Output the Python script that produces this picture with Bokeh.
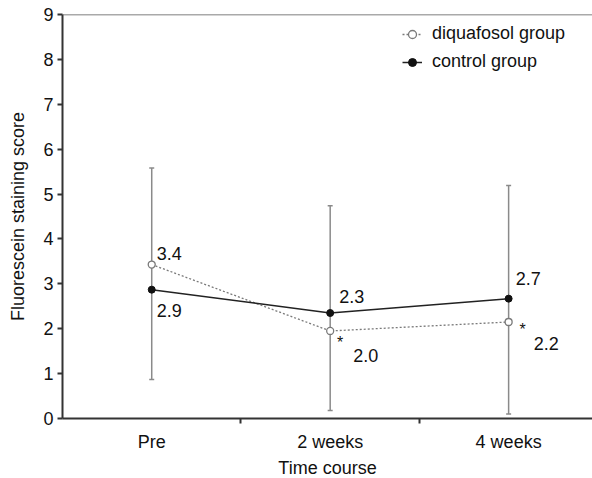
from bokeh.plotting import figure
from bokeh.models import (ColumnDataSource, FixedTicker, Range1d, Span, Whisker,
                          TeeHead, Legend, LegendItem)
from bokeh.core.properties import value
from bokeh.embed import file_html
from bokeh.resources import INLINE

# ---- data ----
categories = ["Pre", "2 weeks", "4 weeks"]
diquafosol = [3.43, 1.95, 2.15]
control = [2.87, 2.35, 2.67]
diq_labels = ["3.4", "2.0", "2.2"]
ctrl_labels = ["2.9", "2.3", "2.7"]
significance = ["", "*", "*"]
err_upper = [5.58, 4.74, 5.19]
err_lower = [0.87, 0.18, 0.10]
y_ticks = [0, 1, 2, 3, 4, 5, 6, 7, 8, 9]

FONT = "Liberation Sans"
FS = "18px"
xs = list(range(len(categories)))

p = figure(frame_width=530, frame_height=404, output_backend="svg", toolbar_location=None,
           x_range=Range1d(-0.5, 2.47), y_range=Range1d(0, 9),
           min_border_left=62, min_border_right=0, min_border_top=14,
           min_border_bottom=56)
p.outline_line_color = None
p.grid.visible = False
p.background_fill_color = "white"

# top border line
p.add_layout(Span(location=9, dimension="width", line_color="#555555", line_width=1.5))

# axes
p.xaxis.ticker = FixedTicker(ticks=xs, minor_ticks=[0.5, 1.5])
p.xaxis.major_label_overrides = {i: c for i, c in enumerate(categories)}
p.xaxis.major_tick_out = 0
p.xaxis.major_tick_in = 0
p.xaxis.minor_tick_out = 5
p.xaxis.minor_tick_in = 0
p.xaxis.minor_tick_line_color = "#333333"
p.xaxis.minor_tick_line_width = 2
p.xaxis.major_label_standoff = 8
p.xaxis.axis_label = "Time course"
p.xaxis.axis_label_standoff = 3

p.yaxis.ticker = FixedTicker(ticks=y_ticks, minor_ticks=[])
p.yaxis.major_tick_out = 5
p.yaxis.major_tick_in = 0
p.yaxis.major_label_standoff = 4
p.yaxis.axis_label = "Fluorescein staining score"
p.yaxis.axis_label_standoff = 12

for ax in (p.xaxis, p.yaxis):
    ax.axis_line_color = "#333333"
    ax.axis_line_width = 2
    ax.major_tick_line_color = "#333333"
    ax.major_tick_line_width = 2
    ax.major_label_text_font = FONT
    ax.major_label_text_font_size = FS
    ax.major_label_text_color = "#111111"
    ax.axis_label_text_font = FONT
    ax.axis_label_text_font_size = FS
    ax.axis_label_text_font_style = "normal"
    ax.axis_label_text_color = "#111111"

# error bars
err_src = ColumnDataSource(dict(x=xs, upper=err_upper, lower=err_lower))
wh = Whisker(base="x", upper="upper", lower="lower", source=err_src,
             line_color="#8a8a8a", line_width=1.5,
             upper_head=TeeHead(size=5, line_color="#8a8a8a", line_width=1.5),
             lower_head=TeeHead(size=5, line_color="#8a8a8a", line_width=1.5))
p.add_layout(wh)

src = ColumnDataSource(dict(x=xs, diq=diquafosol, ctrl=control))

# series
dl = p.line("x", "diq", source=src, line_color="#7a7a7a", line_width=1.3, line_dash="2 2")
ds = p.scatter("x", "diq", source=src, marker="circle", size=7, fill_color="white",
               line_color="#7a7a7a", line_width=1.3)
cl = p.line("x", "ctrl", source=src, line_color="#222222", line_width=1.5)
cs = p.scatter("x", "ctrl", source=src, marker="circle", size=7, fill_color="#111111",
               line_color="#111111")

# value labels (pixel offsets per point)
diq_dx = [5, 23, 25]
diq_dy = [-11, 25, 22]
ctrl_dx = [5, 9, 7]
ctrl_dy = [21, -17, -20]
sig_dx = [0, 10, 14]
sig_dy = [0, 12, 8]

lab_src = ColumnDataSource(dict(x=xs, diq=diquafosol, ctrl=control, diq_lab=diq_labels,
                                ctrl_lab=ctrl_labels, sig=significance,
                                diq_dx=diq_dx, diq_dy=diq_dy, ctrl_dx=ctrl_dx,
                                ctrl_dy=ctrl_dy, sig_dx=sig_dx, sig_dy=sig_dy))
common = dict(source=lab_src, text_font=value(FONT), text_font_size=FS,
              text_color="#111111", text_align="left", text_baseline="middle")
p.text(x="x", y="diq", text="diq_lab", x_offset="diq_dx", y_offset="diq_dy", **common)
p.text(x="x", y="ctrl", text="ctrl_lab", x_offset="ctrl_dx", y_offset="ctrl_dy", **common)
p.text(x="x", y="diq", text="sig", x_offset="sig_dx", y_offset="sig_dy",
       source=lab_src, text_font=value(FONT), text_font_size="16px",
       text_color="#111111", text_align="center", text_baseline="middle")

legend = Legend(items=[LegendItem(label="diquafosol group", renderers=[dl, ds]),
                       LegendItem(label="control group", renderers=[cl, cs])],
                location=(340, 346), border_line_color=None, background_fill_alpha=0,
                label_text_font=FONT, label_text_font_size=FS,
                label_text_color="#111111", glyph_width=20, glyph_height=20,
                label_height=20, spacing=7, padding=5, label_standoff=10, margin=0)
p.add_layout(legend)

open("out.html", "w").write(file_html(p, INLINE))
